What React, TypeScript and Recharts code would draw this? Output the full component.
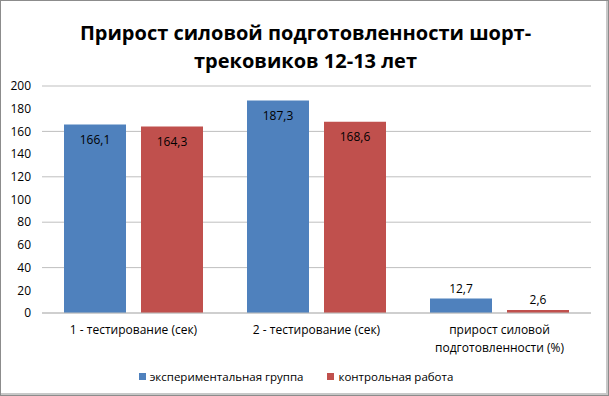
import React from "react";
import { BarChart, Bar, XAxis, YAxis, CartesianGrid, Legend, LabelList } from "recharts";

// ── данные ───────────────────────────────────────────────────────────────
const categories = [
  "1 - тестирование (сек)",
  "2 - тестирование (сек)",
  "прирост силовой подготовленности (%)",
];
const experimental = [166.1, 187.3, 12.7];
const control = [164.3, 168.6, 2.6];
const yTicks = [0, 20, 40, 60, 80, 100, 120, 140, 160, 180, 200];

const seriesNames = {
  exp: "экспериментальная группа",
  ctrl: "контрольная работа",
};
const colors = { exp: "#4F81BD", ctrl: "#C0504D" };

const data = categories.map((name, i) => ({
  name,
  exp: experimental[i],
  ctrl: control[i],
}));

const FONT = "'Open Sans', 'Noto Sans', sans-serif";

const fmt = (v: number) => v.toFixed(1).replace(".", ",");

// подпись внутри столбца сверху, если не влезает — над столбцом
const ValueLabel = (props: any) => {
  const { x, y, width, height, value } = props;
  const inside = height > 28;
  const ty = inside ? y + 16 : y - 9;
  return (
    <text
      x={x + width / 2}
      y={ty}
      textAnchor="middle"
      dominantBaseline="middle"
      fontSize={12}
      fontFamily={FONT}
      fill="#000"
    >
      {fmt(value)}
    </text>
  );
};

// перенос длинных подписей оси X
const wrap = (s: string, max: number) => {
  const words = s.split(" ");
  const lines: string[] = [];
  let cur = "";
  words.forEach((w) => {
    if (cur && (cur + " " + w).length > max) {
      lines.push(cur);
      cur = w;
    } else {
      cur = cur ? cur + " " + w : w;
    }
  });
  if (cur) lines.push(cur);
  return lines;
};

const CategoryTick = (props: any) => {
  const { x, y, payload } = props;
  const lines = wrap(payload.value, 24);
  return (
    <text x={x} y={y} textAnchor="middle" fontSize={12} fontFamily={FONT} fill="#000">
      {lines.map((l, i) => (
        <tspan key={i} x={x} dy={i === 0 ? 13 : 18}>
          {l}
        </tspan>
      ))}
    </text>
  );
};

const LegendContent = () => (
  <div
    style={{
      height: 28,
      display: "flex",
      justifyContent: "center",
      alignItems: "center",
      gap: 24,
      fontFamily: FONT,
      fontSize: 11.5,
      color: "#000",
    }}
  >
    {(["exp", "ctrl"] as const).map((k) => (
      <span key={k} style={{ display: "flex", alignItems: "center" }}>
        <span
          style={{
            width: 7,
            height: 7,
            background: colors[k],
            display: "inline-block",
            marginRight: 4,
          }}
        />
        {seriesNames[k]}
      </span>
    ))}
  </div>
);

export default function App() {
  return (
    <div
      style={{
        position: "absolute",
        left: 0,
        top: 0,
        width: 609,
        height: 396,
        boxSizing: "border-box",
        border: "1px solid #8c8c8c",
        boxShadow: "inset -2px -2px 0 #c8c8c8",
        background: "#fff",
      }}
    >
      <div
        style={{
          position: "absolute",
          left: 0,
          top: 18,
          width: 609,
          textAlign: "center",
          fontFamily: FONT,
          fontWeight: 700,
          fontSize: 20,
          lineHeight: "28px",
          color: "#000",
        }}
      >
        Прирост силовой подготовленности шорт-
        <br />
        трековиков 12-13 лет
      </div>
      <BarChart
        width={607}
        height={394}
        data={data}
        margin={{ top: 85, right: 17, left: 0, bottom: 5 }}
        barGap={15}
        barCategoryGap={22}
      >
        <CartesianGrid vertical={false} stroke="#BFBFBF" />
        <XAxis
          dataKey="name"
          height={49}
          axisLine={{ stroke: "#BFBFBF" }}
          tickLine={false}
          tick={<CategoryTick />}
          interval={0}
        />
        <YAxis
          width={41}
          domain={[0, 200]}
          ticks={yTicks}
          axisLine={false}
          tickLine={false}
          tickMargin={5}
          tick={{ fontSize: 12, fontFamily: FONT, fill: "#000" }}
        />
        <Legend verticalAlign="bottom" content={<LegendContent />} />
        <Bar dataKey="exp" name={seriesNames.exp} fill={colors.exp} isAnimationActive={false}>
          <LabelList dataKey="exp" content={<ValueLabel />} />
        </Bar>
        <Bar dataKey="ctrl" name={seriesNames.ctrl} fill={colors.ctrl} isAnimationActive={false}>
          <LabelList dataKey="ctrl" content={<ValueLabel />} />
        </Bar>
      </BarChart>
    </div>
  );
}
